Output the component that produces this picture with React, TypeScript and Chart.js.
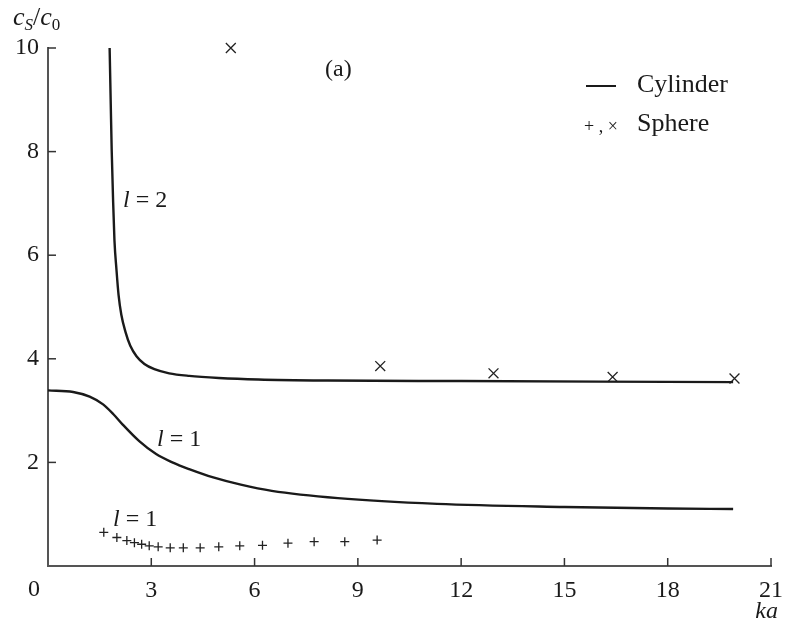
import { useEffect, useRef } from "react";
import { Chart, registerables } from "chart.js";

Chart.register(...registerables);

const xTickValues = [0, 3, 6, 9, 12, 15, 18, 21];
const yTickValues = [0, 2, 4, 6, 8, 10];

// Cylinder, l = 2
const cylL2X = [1.79, 1.82, 1.85, 1.89, 1.93, 1.99, 2.05, 2.13, 2.25, 2.39, 2.57, 2.8, 3.09, 3.52, 4.1, 4.96, 6.11, 8.13, 12.0, 16.0, 19.9];
const cylL2Y = [10.0, 9.0, 8.03, 7.07, 6.29, 5.71, 5.23, 4.85, 4.52, 4.25, 4.05, 3.9, 3.8, 3.72, 3.67, 3.63, 3.6, 3.58, 3.57, 3.56, 3.55];

// Cylinder, l = 1
const cylL1X = [0, 0.73, 1.21, 1.6, 1.9, 2.17, 2.65, 3.14, 3.61, 4.1, 4.8, 5.6, 6.5, 8.42, 11.3, 15.0, 18.0, 19.9];
const cylL1Y = [3.39, 3.36, 3.27, 3.12, 2.93, 2.73, 2.41, 2.16, 2.0, 1.87, 1.71, 1.57, 1.45, 1.31, 1.2, 1.14, 1.11, 1.1];

// Sphere, l = 1 (+)
const sphL1X = [1.62, 2.0, 2.29, 2.51, 2.72, 2.94, 3.2, 3.55, 3.93, 4.42, 4.96, 5.57, 6.23, 6.97, 7.73, 8.62, 9.56];
const sphL1Y = [0.65, 0.55, 0.49, 0.45, 0.42, 0.39, 0.37, 0.35, 0.35, 0.35, 0.37, 0.39, 0.4, 0.44, 0.47, 0.47, 0.5];

// Sphere, l = 2 (×)
const sphL2X = [5.31, 9.65, 12.94, 16.4, 19.94];
const sphL2Y = [10.0, 3.86, 3.72, 3.65, 3.62];

const FONT = "'Liberation Serif', 'DejaVu Serif', serif";
const INK = "#1a1a1a";

const toPts = (xs: number[], ys: number[]) => xs.map((x, i) => ({ x, y: ys[i] }));

const decorPlugin = {
  id: "decor",
  afterDraw(chart: any) {
    const ctx = chart.ctx as CanvasRenderingContext2D;
    const { left, bottom } = chart.chartArea;
    const xs = chart.scales.x;
    const ys = chart.scales.y;
    ctx.save();
    // inward tick marks
    ctx.strokeStyle = "#333";
    ctx.lineWidth = 1.5;
    xTickValues.forEach((v) => {
      if (v === 0) return;
      const px = xs.getPixelForValue(v);
      ctx.beginPath();
      ctx.moveTo(px, bottom);
      ctx.lineTo(px, bottom - 8);
      ctx.stroke();
    });
    yTickValues.forEach((v) => {
      if (v === 0) return;
      const py = ys.getPixelForValue(v);
      ctx.beginPath();
      ctx.moveTo(left, py);
      ctx.lineTo(left + 8, py);
      ctx.stroke();
    });

    ctx.fillStyle = INK;
    // "0" label at origin, shifted left
    ctx.font = `24px ${FONT}`;
    ctx.textAlign = "center";
    ctx.textBaseline = "middle";
    ctx.fillText("0", left - 14, 590);

    // x axis title
    ctx.font = `italic 24px ${FONT}`;
    ctx.textAlign = "right";
    ctx.textBaseline = "middle";
    ctx.fillText("ka", 778, 612);

    // y axis title  c_S / c_0
    ctx.textAlign = "left";
    ctx.textBaseline = "alphabetic";
    let x = 13;
    const part = (t: string, f: string, base: number) => {
      ctx.font = f;
      ctx.fillText(t, x, base);
      x += ctx.measureText(t).width;
    };
    part("c", `italic 26px ${FONT}`, 25);
    part("S", `italic 17px ${FONT}`, 30);
    part("/", `26px ${FONT}`, 25);
    part("c", `italic 26px ${FONT}`, 25);
    part("0", `17px ${FONT}`, 30);

    // annotations
    const label = (lx: number, ly: number, rest: string) => {
      ctx.textBaseline = "middle";
      ctx.textAlign = "left";
      ctx.font = `italic 24px ${FONT}`;
      ctx.fillText("l", lx, ly);
      const w = ctx.measureText("l").width;
      ctx.font = `24px ${FONT}`;
      ctx.fillText(rest, lx + w, ly);
    };
    label(123, 201, " = 2");
    label(157, 440, " = 1");
    label(113, 520, " = 1");

    ctx.font = `24px ${FONT}`;
    ctx.textAlign = "left";
    ctx.textBaseline = "middle";
    ctx.fillText("(a)", 325, 70);

    // legend
    ctx.strokeStyle = INK;
    ctx.lineWidth = 2;
    ctx.beginPath();
    ctx.moveTo(586, 86);
    ctx.lineTo(616, 86);
    ctx.stroke();
    ctx.textBaseline = "alphabetic";
    ctx.font = `26px ${FONT}`;
    ctx.fillText("Cylinder", 637, 92);
    ctx.fillText("Sphere", 637, 131);
    ctx.font = `18px ${FONT}`;
    ctx.textBaseline = "middle";
    ctx.fillText("+ , ×", 584, 127);
    ctx.restore();
  },
};

export default function App() {
  const ref = useRef<HTMLCanvasElement | null>(null);
  useEffect(() => {
    if (!ref.current) return;
    const chart = new Chart(ref.current, {
      type: "scatter",
      data: {
        datasets: [
          {
            label: "Cylinder l=2",
            data: toPts(cylL2X, cylL2Y),
            showLine: true,
            borderColor: INK,
            borderWidth: 2.4,
            pointRadius: 0,
            cubicInterpolationMode: "monotone",
            fill: false,
          },
          {
            label: "Cylinder l=1",
            data: toPts(cylL1X, cylL1Y),
            showLine: true,
            borderColor: INK,
            borderWidth: 2.4,
            pointRadius: 0,
            cubicInterpolationMode: "monotone",
            fill: false,
          },
          {
            label: "Sphere l=1",
            data: toPts(sphL1X, sphL1Y),
            showLine: false,
            pointStyle: "cross",
            pointRadius: 4.5,
            borderColor: "#222",
            borderWidth: 1.3,
            clip: false,
          },
          {
            label: "Sphere l=2",
            data: toPts(sphL2X, sphL2Y),
            showLine: false,
            pointStyle: "crossRot",
            pointRadius: 7,
            borderColor: "#222",
            borderWidth: 1.3,
            clip: false,
          },
        ],
      },
      options: {
        animation: false,
        responsive: false,
        events: [],
        layout: { padding: { top: 48, right: 17, left: 0, bottom: 0 } },
        plugins: { legend: { display: false }, tooltip: { enabled: false } },
        scales: {
          x: {
            type: "linear",
            min: 0,
            max: 21,
            afterBuildTicks: (s: any) => {
              s.ticks = xTickValues.map((v) => ({ value: v }));
            },
            afterFit: (s: any) => {
              s.height = 58;
            },
            ticks: {
              callback: (v: any) => (v === 0 ? "" : String(v)),
              font: { family: FONT, size: 24 },
              color: INK,
              padding: 10,
              maxRotation: 0,
              autoSkip: false,
            },
            grid: { display: false, drawTicks: false },
            border: { display: true, color: "#555", width: 2 },
          },
          y: {
            type: "linear",
            min: 0,
            max: 10,
            afterBuildTicks: (s: any) => {
              s.ticks = yTickValues.map((v) => ({ value: v }));
            },
            afterFit: (s: any) => {
              s.width = 48;
            },
            ticks: {
              callback: (v: any) => (v === 0 ? "" : String(v)),
              font: { family: FONT, size: 24 },
              color: INK,
              padding: 9,
              autoSkip: false,
            },
            grid: { display: false, drawTicks: false },
            border: { display: true, color: "#555", width: 2 },
          },
        },
      },
      plugins: [decorPlugin],
    });
    return () => chart.destroy();
  }, []);
  return (
    <div style={{ position: "fixed", left: 0, top: 0, width: 793, height: 624, background: "#fff" }}>
      <canvas ref={ref} width={793} height={624} style={{ display: "block" }} />
    </div>
  );
}
